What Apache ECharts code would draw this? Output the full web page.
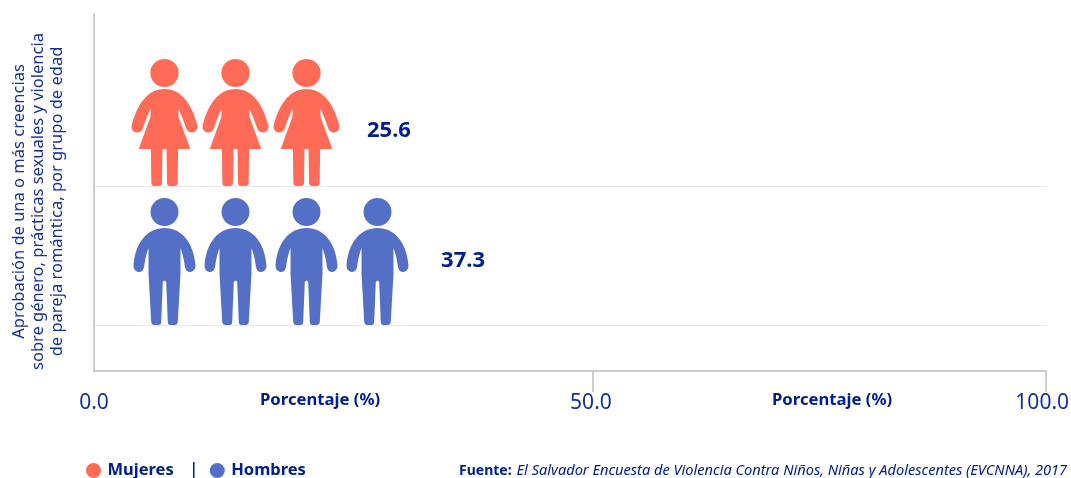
<!DOCTYPE html>
<html>
<head>
<meta charset="utf-8">
<title>Creencias sobre género</title>
<script src="https://cdn.jsdelivr.net/npm/echarts@6/dist/echarts.min.js"></script>
<style>
  html, body { margin: 0; padding: 0; background: #fff; }
  #chart { width: 1071px; height: 478px; }
</style>
</head>
<body>
<div id="chart"></div>
<script>
  // values
  var categories = ['Mujeres', 'Hombres'];
  var womenValues = [25.6, null];
  var menValues = [null, 37.3];
  var iconCounts = [3, 4];
  var tickValues = [52.4, 100]; // the 50.0 tick sits right of the true midpoint in the source
  var labelValues = [0, 52.2, 99.6]; // labels are nudged off their ticks the same way
  var tickLabels = ['0.0', '50.0', '100.0'];
  var yAxisTitle = 'Aprobación de una o más creencias\nsobre género, prácticas sexuales y violencia\nde pareja romántica, por grupo de edad';
  var xAxisTitle = 'Porcentaje (%)';
  var sourceLabel = 'Fuente:';
  var sourceText = 'El Salvador Encuesta de Violencia Contra Niños, Niñas y Adolescentes (EVCNNA), 2017';

  var WOMAN_ICON = 'path://M19 14a14 14 0 1 0 28 0a14 14 0 1 0 -28 0z' +
    'M33 30C48 30 59 42 65.5 66C66.5 71 63 73.5 60 73.5C57.5 73.5 55.5 72 54.5 69.5C52 62 49.5 55 46.5 50L47 58L58.5 90L46.5 90L46 124Q46 127 43 127L38.5 127Q35.5 127 35.5 124L35 90L31 90L30.5 124Q30.5 127 27.5 127L23 127Q20 127 20 124L19.5 90L7.5 90L19 58L19.5 50C16.5 55 14 62 11.5 69.5C10.5 72 8.5 73.5 6 73.5C3 73.5 -0.5 71 0.5 66C7 42 18 30 33 30Z';
  var MAN_ICON = 'path://M17 14a14 14 0 1 0 28 0a14 14 0 1 0 -28 0z' +
    'M31 30C48 30 60 44 62 67C62.5 71.5 59 74 56.5 74C54 74 52 72 51.5 69C50.5 61 49 55 47 50L47 76L44.3 124Q44 127 41 127L37 127Q34.3 127 34.3 124L32.7 84Q31 81 29.3 84L27.7 124Q27.7 127 25 127L21 127Q18 127 17.7 124L15 76L15 50C13 55 11.5 61 10.5 69C10 72 8 74 5.5 74C3 74 -0.5 71.5 0 67C2 44 14 30 31 30Z';

  var TEXT_COLOR = '#14309a';
  var BOLD_COLOR = '#00208f';
  var FONT = '"Noto Sans", sans-serif';
  var UNITS_PER_ICON = 7.458;

  function iconItem(value, index, offsetX, offsetY) {
    return value === null ? null : {
      value: value,
      symbolRepeat: iconCounts[index],
      symbolBoundingData: iconCounts[index] * UNITS_PER_ICON,
      label: { show: true, position: 'right', offset: [offsetX, offsetY] }
    };
  }

  function iconSeries(name, values, icon, size, color, offsetX, offsetY) {
    return {
      name: name,
      type: 'pictorialBar',
      xAxisIndex: 1,
      yAxisIndex: 1,
      symbol: icon,
      symbolSize: size,
      symbolMargin: '0!',
      symbolPosition: 'start',
      symbolOffset: [35, 6],
      itemStyle: { color: color },
      label: {
        fontFamily: FONT,
        fontWeight: 'bold',
        fontSize: 22,
        color: BOLD_COLOR,
        formatter: function (p) { return p.value.toFixed(1); }
      },
      data: values.map(function (v, i) { return iconItem(v, i, offsetX, offsetY); })
    };
  }

  var chart = echarts.init(document.getElementById('chart'));

  chart.setOption({
    animation: false,
    title: [
      { text: xAxisTitle, left: 260, top: 392, textStyle: { fontFamily: FONT, fontSize: 16.7, fontWeight: 'bold', color: BOLD_COLOR }, padding: 0 },
      { text: xAxisTitle, left: 772, top: 392, textStyle: { fontFamily: FONT, fontSize: 16.7, fontWeight: 'bold', color: BOLD_COLOR }, padding: 0 },
      {
        text: '{b|' + sourceLabel + '} {i|' + sourceText + '}',
        left: 459,
        top: 462,
        padding: 0,
        textStyle: {
          rich: {
            b: { fontFamily: FONT, fontSize: 14, fontWeight: 'bold', color: BOLD_COLOR },
            i: { fontFamily: FONT, fontSize: 14.6, fontStyle: 'italic', fontWeight: 'normal', color: BOLD_COLOR }
          }
        }
      }
    ],
    legend: {
      left: 86,
      top: 462,
      padding: 0,
      icon: 'circle',
      itemWidth: 18,
      itemHeight: 15,
      itemGap: 36,
      data: categories,
      textStyle: { fontFamily: FONT, fontSize: 16.5, fontWeight: 'bold', color: BOLD_COLOR }
    },
    graphic: [
      { type: 'rect', left: 193, top: 462, shape: { width: 1.5, height: 16 }, style: { fill: BOLD_COLOR } }
    ],
    grid: [
      { left: 94, right: 25, top: 14, bottom: 107, outerBoundsMode: 'none' },
      { left: 94, right: 25, top: 47, bottom: 153, outerBoundsMode: 'none' }
    ],
    xAxis: [
      {
        type: 'value',
        gridIndex: 0,
        min: 0,
        max: 100,
        splitLine: { show: false },
        axisLine: { show: true, onZero: false, lineStyle: { color: '#bdbdbd', width: 1.5 } },
        axisTick: { show: true, length: 21, customValues: tickValues, lineStyle: { color: '#bdbdbd', width: 1.5 } },
        axisLabel: {
          customValues: labelValues,
          margin: 22,
          fontFamily: FONT,
          fontSize: 21,
          color: TEXT_COLOR,
          hideOverlap: false,
          formatter: function (value) { return tickLabels[labelValues.indexOf(value)]; }
        }
      },
      {
        type: 'value',
        gridIndex: 1,
        min: 0,
        max: 100,
        show: false
      }
    ],
    yAxis: [
      {
        type: 'value',
        gridIndex: 0,
        min: 0,
        max: 1,
        name: yAxisTitle,
        nameLocation: 'middle',
        nameRotate: 90,
        nameGap: 27,
        nameTextStyle: { fontFamily: FONT, fontSize: 16.5, lineHeight: 19, color: TEXT_COLOR, padding: [0, 18, 0, 0] },
        splitLine: { show: false },
        axisTick: { show: false },
        axisLabel: { show: false },
        axisLine: { show: true, lineStyle: { color: '#bdbdbd', width: 1.5 } }
      },
      {
        type: 'category',
        gridIndex: 1,
        inverse: true,
        data: categories,
        axisLine: { show: false },
        axisTick: { show: false },
        axisLabel: { show: false },
        splitLine: { show: true, showMinLine: false, lineStyle: { color: '#e8e8e8', width: 1 } }
      }
    ],
    series: [
      iconSeries(categories[0], womenValues, WOMAN_ICON, [66, 127], '#ff6b57', 20, 14),
      iconSeries(categories[1], menValues, MAN_ICON, [62, 127], '#5470c6', -13, 5)
    ]
  });
</script>
</body>
</html>
